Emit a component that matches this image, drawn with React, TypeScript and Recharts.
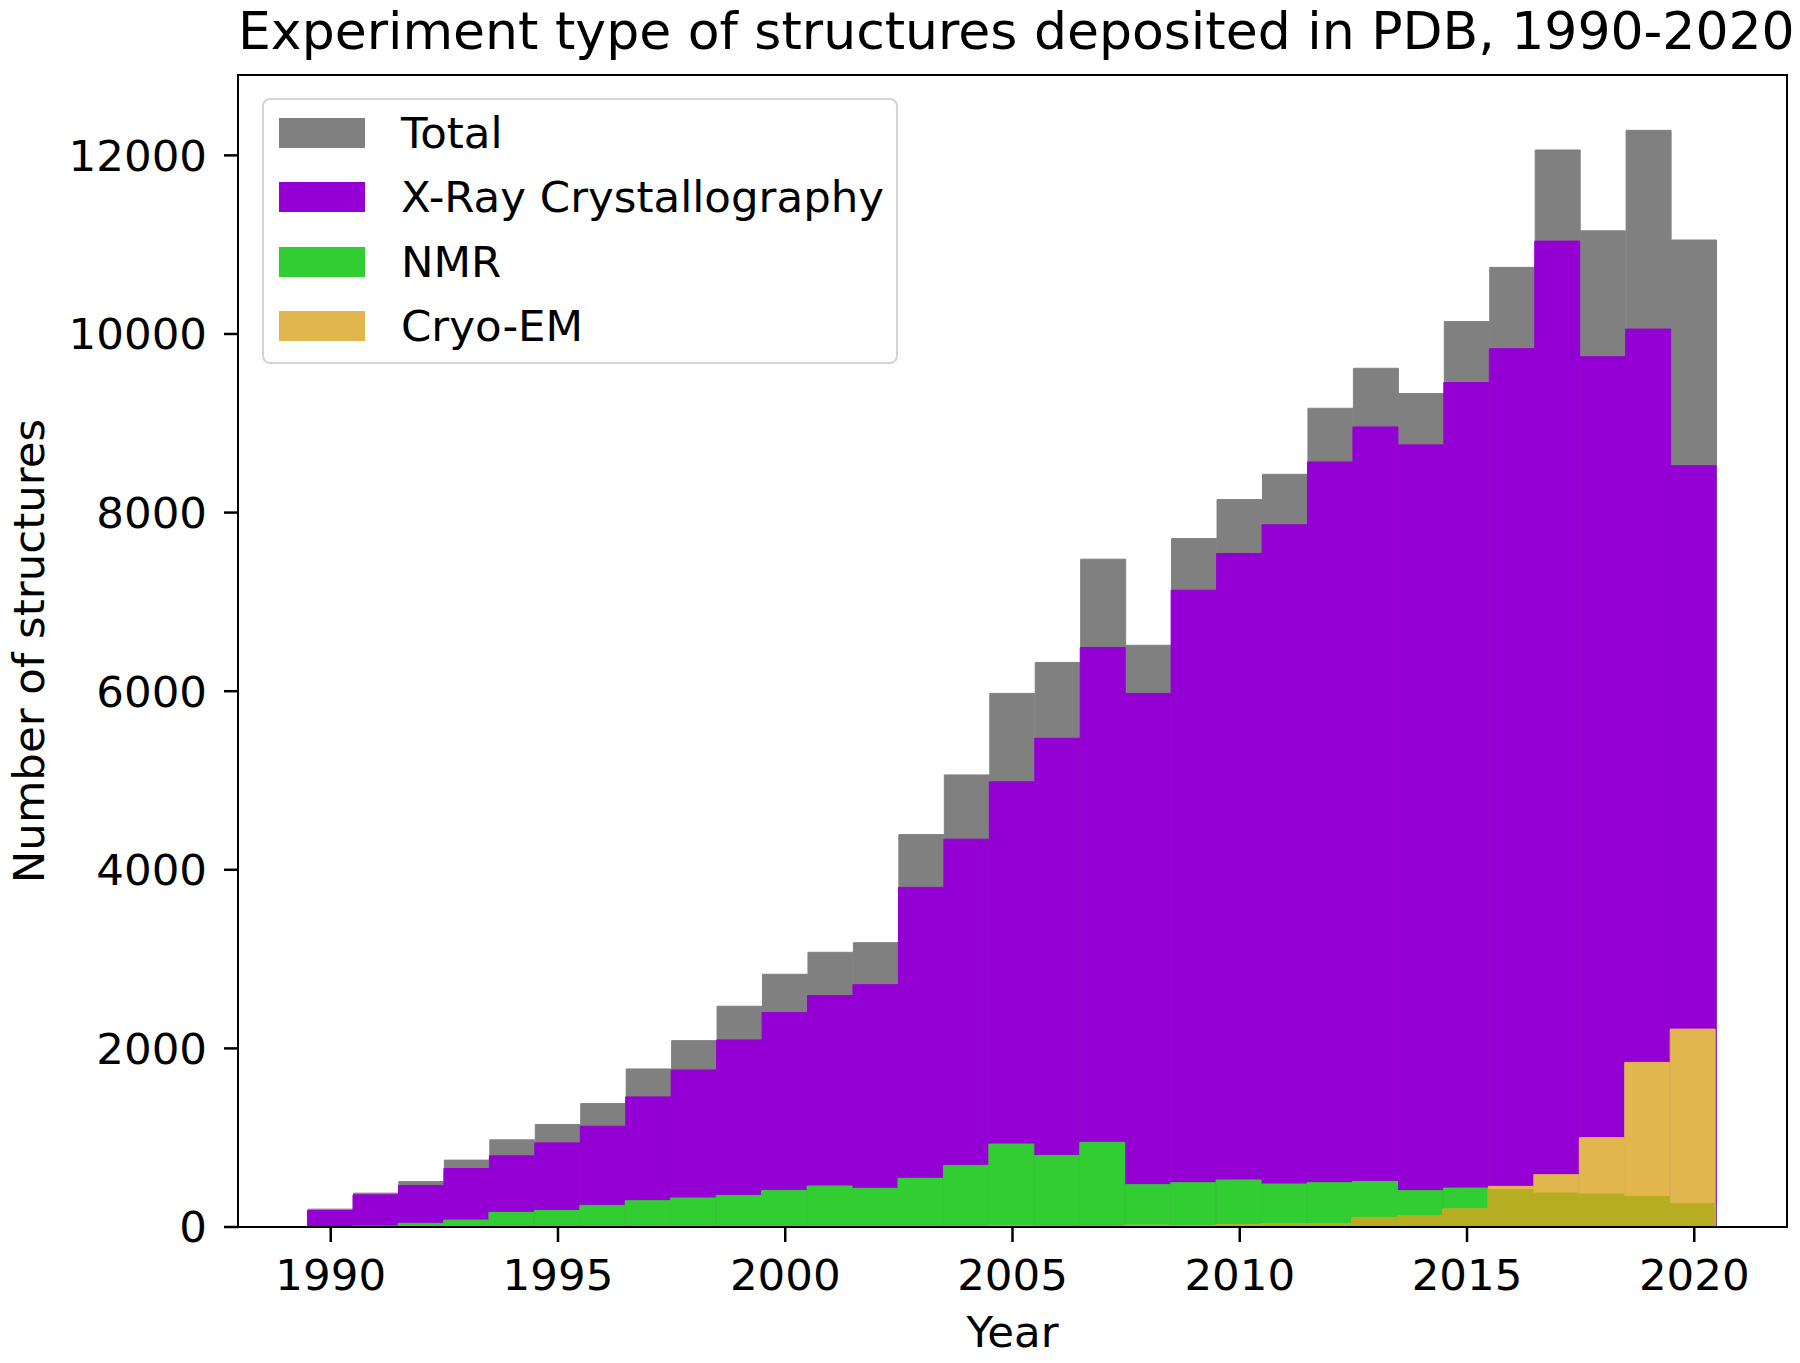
import React from 'react';
import { BarChart, Bar, XAxis, YAxis, Legend } from 'recharts';

const FONT = '"DejaVu Sans", sans-serif';
const LABEL_SIZE = 43.5;

const years = [
  1990, 1991, 1992, 1993, 1994, 1995, 1996, 1997, 1998, 1999, 2000, 2001, 2002, 2003, 2004, 2005,
  2006, 2007, 2008, 2009, 2010, 2011, 2012, 2013, 2014, 2015, 2016, 2017, 2018, 2019, 2020,
];
const total = [
  200, 379, 509, 749, 976, 1147, 1382, 1770, 2087, 2472, 2830, 3076, 3184, 4394, 5062, 5975,
  6322, 7478, 6514, 7709, 8146, 8429, 9168, 9616, 9333, 10139, 10746, 12060, 11155, 12280, 11052,
];
const xray = [
  185, 360, 465, 655, 797, 942, 1129, 1457, 1759, 2095, 2401, 2591, 2714, 3803, 4343, 4985,
  5473, 6489, 5975, 7131, 7542, 7863, 8567, 8959, 8758, 9456, 9835, 11040, 9745, 10055, 8525,
];
const nmr = [
  5, 10, 41, 78, 164, 186, 242, 295, 325, 354, 410, 459, 433, 545, 690, 929,
  802, 948, 474, 496, 526, 481, 496, 511, 407, 436, 418, 381, 369, 340, 261,
];
const cryo = [
  0, 0, 0, 0, 0, 0, 0, 0, 0, 0, 0, 0, 0, 0, 0, 10,
  5, 5, 19, 11, 26, 37, 37, 101, 123, 201, 455, 586, 1000, 1843, 2216,
];
const yTicks = [0, 2000, 4000, 6000, 8000, 10000, 12000];

const series = [
  { key: 'total', name: 'Total', color: '#808080' },
  { key: 'xray', name: 'X-Ray Crystallography', color: '#9400D3' },
  { key: 'nmr', name: 'NMR', color: '#32CD32' },
  { key: 'cryo', name: 'Cryo-EM', color: '#E1B64D' },
];
const OVERLAP_COLOR = '#B7AD22';

// where NMR and Cryo-EM overlap the original shows a blended olive tone
const data = years.map((year, i) => ({
  year,
  total: total[i],
  xray: xray[i],
  nmr: nmr[i],
  cryo: cryo[i],
  overlap: Math.min(nmr[i], cryo[i]),
}));

const tickStyle = { fill: '#000', fontSize: LABEL_SIZE, fontFamily: FONT };

function LegendBox() {
  return (
    <div
      style={{
        width: 636,
        height: 266,
        boxSizing: 'border-box',
        border: '2.5px solid #d4d4d4',
        borderRadius: 8,
        background: 'rgba(255,255,255,0.8)',
        position: 'relative',
        fontFamily: FONT,
        fontSize: LABEL_SIZE,
        color: '#000',
      }}
    >
      {series.map((s, i) => (
        <div
          key={s.key}
          style={{
            position: 'absolute',
            left: 15,
            top: 33 + i * 64.3 - 25,
            height: 50,
            display: 'flex',
            alignItems: 'center',
            whiteSpace: 'nowrap',
          }}
        >
          <div style={{ width: 86, height: 30, background: s.color, marginRight: 36 }} />
          <span>{s.name}</span>
        </div>
      ))}
    </div>
  );
}

export default function App() {
  return (
    <div style={{ position: 'absolute', left: 0, top: 0, width: 1800, height: 1363, background: '#fff' }}>
      <BarChart
        width={1800}
        height={1363}
        data={data}
        margin={{ top: 75, right: 13, bottom: 76, left: 0 }}
        barCategoryGap={0}
        barGap="-100%"
      >
        <XAxis
          dataKey="year"
          interval={4}
          padding={{ left: 70, right: 70 }}
          height={60}
          axisLine={false}
          tickSize={15}
          tickMargin={17}
          tickLine={{ stroke: '#000', strokeWidth: 2.5 }}
          tick={tickStyle}
        />
        <YAxis
          type="number"
          domain={[0, 12900]}
          ticks={yTicks}
          width={238}
          axisLine={false}
          tickSize={14}
          tickMargin={17}
          tickLine={{ stroke: '#000', strokeWidth: 2.5 }}
          tick={tickStyle}
        />
        <Legend
          layout="horizontal"
          verticalAlign="middle"
          align="center"
          wrapperStyle={{ left: 262, top: 98, width: 636, height: 266 }}
          content={() => <LegendBox />}
        />
        {series.map((s) => (
          <Bar
            key={s.key}
            dataKey={s.key}
            name={s.name}
            fill={s.color}
            stroke={s.color}
            strokeWidth={1}
            isAnimationActive={false}
          />
        ))}
        <Bar
          dataKey="overlap"
          fill={OVERLAP_COLOR}
          stroke={OVERLAP_COLOR}
          strokeWidth={1}
          legendType="none"
          isAnimationActive={false}
        />
      </BarChart>

      {/* axes frame */}
      <div
        style={{
          position: 'absolute',
          left: 238 - 1.25,
          top: 75 - 1.25,
          width: 1549 + 2.5,
          height: 1152 + 2.5,
          boxSizing: 'border-box',
          border: '2.5px solid #000',
          pointerEvents: 'none',
        }}
      />

      {/* title and axis labels */}
      <div
        style={{
          position: 'absolute',
          left: 238,
          width: 1549,
          top: 1,
          textAlign: 'center',
          fontFamily: FONT,
          fontSize: 52,
          whiteSpace: 'nowrap',
          color: '#000',
        }}
      >
        Experiment type of structures deposited in PDB, 1990-2020
      </div>
      <div
        style={{
          position: 'absolute',
          left: 238,
          width: 1549,
          top: 1307,
          textAlign: 'center',
          fontFamily: FONT,
          fontSize: LABEL_SIZE,
          color: '#000',
        }}
      >
        Year
      </div>
      <div
        style={{
          position: 'absolute',
          left: 29,
          top: 651,
          transform: 'translate(-50%, -50%) rotate(-90deg)',
          fontFamily: FONT,
          fontSize: LABEL_SIZE,
          whiteSpace: 'nowrap',
          color: '#000',
        }}
      >
        Number of structures
      </div>
    </div>
  );
}
